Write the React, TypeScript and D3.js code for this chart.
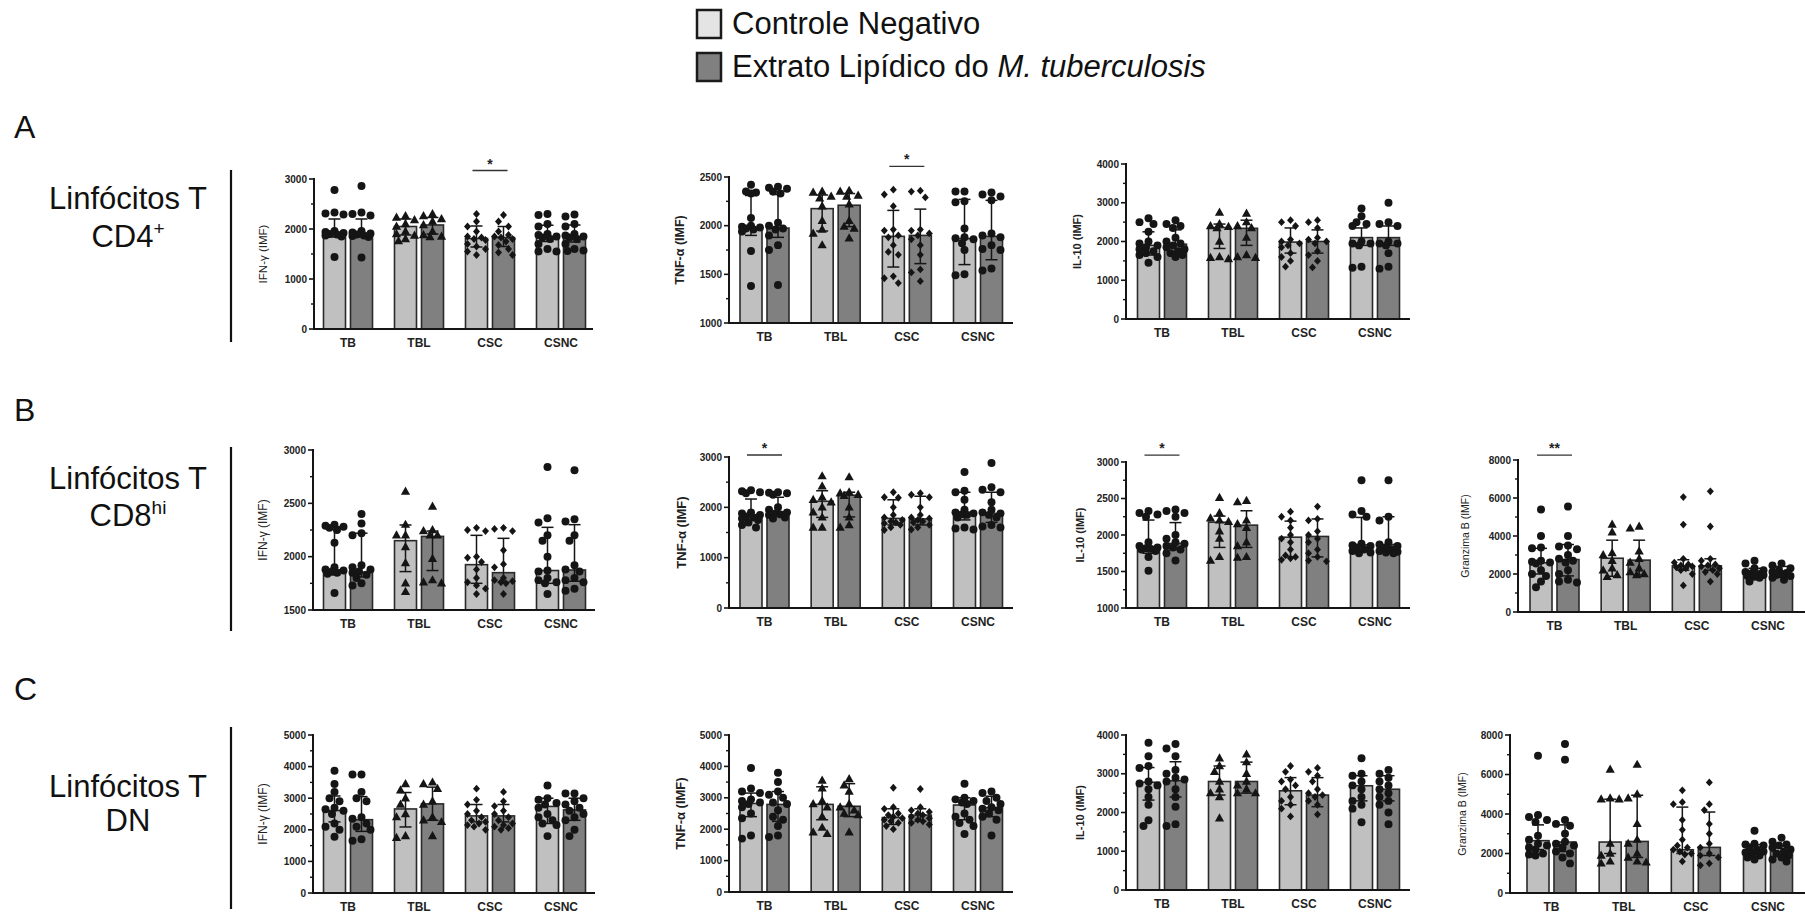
import React from 'react';
import * as d3 from 'd3';

const FONT = "'Liberation Sans', Arial, Helvetica, sans-serif";

const groups = ['TB', 'TBL', 'CSC', 'CSNC'];
const conditions = ['Controle Negativo', 'Extrato Lipídico do '];
const groupShapes = ['circle', 'triangle', 'diamond', 'circle'];
const rowLetters = ['A', 'B', 'C'];
const rowTitles = ['Linfócitos T', 'Linfócitos T', 'Linfócitos T'];
const rowSubs = [['CD4', '+'], ['CD8', 'hi'], ['DN', '']];

// Values ordered: TB ctrl, TB ext, TBL ctrl, TBL ext, CSC ctrl, CSC ext, CSNC ctrl, CSNC ext
// ---- A: CD4 ----
const cd4IfnBars = [1920, 1900, 2050, 2080, 1810, 1830, 1850, 1820];
const cd4IfnLo = [1840, 1840, 1880, 1900, 1640, 1650, 1750, 1740];
const cd4IfnHi = [2200, 2200, 2200, 2230, 2060, 2050, 2075, 2080];
const cd4IfnPts = [
  [2780, 2330, 2310, 2290, 1960, 1940, 1920, 1900, 1890, 1870, 1850, 1440],
  [2860, 2330, 2300, 2270, 1960, 1930, 1910, 1890, 1870, 1860, 1840, 1430],
  [2260, 2230, 2180, 2100, 2050, 1950, 1900, 1870, 1800, 1760],
  [2300, 2260, 2200, 2150, 2080, 1950, 1880, 1850, 1840],
  [2300, 2150, 2050, 1950, 1850, 1830, 1800, 1780, 1700, 1650, 1600, 1550, 1480],
  [2280, 2150, 2050, 1950, 1880, 1850, 1830, 1800, 1750, 1680, 1600, 1530, 1480],
  [2300, 2280, 2100, 2050, 1900, 1880, 1850, 1830, 1800, 1700, 1600, 1550, 1550],
  [2290, 2250, 2100, 2050, 1900, 1870, 1850, 1830, 1800, 1700, 1600, 1570, 1560],
];
const cd4TnfBars = [1975, 1975, 2175, 2210, 1890, 1900, 1867, 1890];
const cd4TnfLo = [1900, 1880, 1945, 1990, 1575, 1610, 1600, 1650];
const cd4TnfHi = [2310, 2320, 2315, 2330, 2157, 2170, 2270, 2260];
const cd4TnfPts = [
  [2420, 2350, 2340, 2330, 2080, 2000, 1990, 1980, 1970, 1960, 1940, 1740, 1380],
  [2400, 2390, 2380, 2350, 2330, 2030, 2000, 1970, 1960, 1900, 1800, 1750, 1390],
  [2350, 2340, 2300, 2280, 2200, 2050, 1960, 1920, 1800],
  [2360, 2350, 2310, 2300, 2220, 2050, 1990, 1970, 1870],
  [2370, 2320, 2200, 1960, 1950, 1900, 1880, 1800, 1730, 1700, 1480, 1460, 1410],
  [2360, 2350, 2290, 1960, 1950, 1920, 1900, 1860, 1800, 1700, 1550, 1520, 1430],
  [2350, 2350, 2250, 2240, 1970, 1880, 1870, 1860, 1820, 1750, 1500, 1490],
  [2340, 2320, 2300, 2260, 1920, 1900, 1880, 1800, 1760, 1750, 1560, 1540],
];
const cd4Il10Bars = [1900, 1930, 2360, 2340, 1985, 2000, 2100, 2100];
const cd4Il10Lo = [1650, 1700, 1820, 1900, 1700, 1700, 1900, 1900];
const cd4Il10Hi = [2250, 2300, 2450, 2550, 2350, 2300, 2350, 2400];
const cd4Il10Pts = [
  [2600, 2500, 2450, 2250, 2000, 1950, 1900, 1850, 1800, 1750, 1700, 1650, 1600, 1450],
  [2550, 2450, 2400, 2350, 2100, 2000, 1950, 1900, 1850, 1800, 1750, 1700, 1650, 1600],
  [2750, 2450, 2400, 2380, 2350, 2000, 1600, 1580, 1550],
  [2720, 2500, 2400, 2350, 2100, 1650, 1600, 1580],
  [2550, 2500, 2400, 2050, 2000, 1950, 1900, 1850, 1700, 1600, 1500, 1350],
  [2550, 2500, 2350, 2100, 2050, 2000, 1950, 1750, 1650, 1500, 1330],
  [2850, 2650, 2500, 2450, 2400, 2000, 1950, 1950, 1900, 1350, 1320],
  [3000, 2500, 2450, 2400, 2000, 1950, 1950, 1900, 1700, 1350, 1300],
];
// ---- B: CD8hi ----
const cd8IfnBars = [1875, 1855, 2150, 2190, 1925, 1850, 1870, 1875];
const cd8IfnLo = [1830, 1810, 1860, 1870, 1750, 1760, 1750, 1770];
const cd8IfnHi = [2280, 2220, 2297, 2240, 2200, 2172, 2275, 2300];
const cd8IfnPts = [
  [2300, 2290, 2280, 2270, 2250, 2130, 1900, 1880, 1870, 1860, 1850, 1840, 1660],
  [2400, 2310, 2220, 2200, 1920, 1900, 1880, 1860, 1850, 1830, 1800, 1750, 1730],
  [2610, 2300, 2200, 2200, 2090, 1940, 1750, 1670],
  [2470, 2250, 2240, 2200, 2200, 1980, 1780, 1760, 1750],
  [2270, 2250, 2240, 2000, 1990, 1950, 1880, 1800, 1760, 1730, 1700, 1650],
  [2270, 2260, 2240, 2060, 1930, 1900, 1800, 1780, 1770, 1760, 1750, 1650],
  [2840, 2360, 2320, 2200, 2150, 2000, 1870, 1860, 1800, 1780, 1760, 1750, 1650],
  [2810, 2350, 2330, 2200, 2150, 1920, 1880, 1860, 1800, 1780, 1760, 1700, 1680],
];
const cd8TnfBars = [1850, 1910, 2120, 2240, 1780, 1770, 1900, 1880];
const cd8TnfLo = [1750, 1820, 1800, 1810, 1650, 1650, 1750, 1700];
const cd8TnfHi = [2165, 2200, 2330, 2300, 2150, 2220, 2300, 2300];
const cd8TnfPts = [
  [2340, 2320, 2300, 2280, 1900, 1880, 1850, 1820, 1800, 1780, 1750, 1700, 1650, 1600],
  [2300, 2290, 2280, 2250, 2000, 1950, 1900, 1880, 1860, 1850, 1800, 1780],
  [2620, 2420, 2200, 2150, 2100, 2000, 1900, 1800, 1600, 1600],
  [2600, 2300, 2280, 2250, 2230, 2000, 1800, 1650, 1600],
  [2300, 2200, 2190, 2000, 1850, 1800, 1750, 1720, 1700, 1680, 1650, 1600, 1550],
  [2280, 2250, 2200, 2000, 1850, 1800, 1780, 1750, 1720, 1700, 1650, 1600, 1560],
  [2700, 2330, 2300, 2150, 1950, 1900, 1880, 1860, 1850, 1800, 1600, 1580, 1560],
  [2880, 2400, 2350, 2300, 2100, 1950, 1900, 1880, 1850, 1800, 1650, 1620, 1600],
];
const cd8Il10Bars = [1830, 1885, 2175, 2135, 1970, 1980, 1865, 1870];
const cd8Il10Lo = [1750, 1800, 1830, 1830, 1700, 1700, 1780, 1780];
const cd8Il10Hi = [2205, 2170, 2259, 2332, 2190, 2220, 2241, 2250];
const cd8Il10Pts = [
  [2330, 2300, 2280, 2250, 1900, 1850, 1830, 1820, 1810, 1800, 1780, 1700, 1510],
  [2350, 2330, 2300, 2250, 2000, 1950, 1900, 1880, 1850, 1830, 1800, 1750, 1650],
  [2510, 2300, 2230, 2200, 2180, 2050, 1950, 1700, 1650],
  [2470, 2450, 2200, 2150, 2100, 1900, 1850, 1700, 1690],
  [2320, 2250, 2200, 2100, 2000, 1950, 1900, 1800, 1720, 1700, 1680, 1660],
  [2390, 2220, 2200, 2050, 2000, 1950, 1900, 1800, 1750, 1700, 1650, 1640],
  [2750, 2330, 2280, 2250, 1880, 1860, 1850, 1830, 1800, 1780, 1760, 1750],
  [2750, 2250, 2200, 1900, 1870, 1850, 1830, 1800, 1780, 1770, 1760, 1750],
];
const cd8GzmBars = [2590, 2760, 2830, 2730, 2430, 2430, 1990, 2000];
const cd8GzmLo = [2000, 1900, 1880, 1950, 2200, 2200, 1850, 1850];
const cd8GzmHi = [3350, 3550, 3780, 3780, 2750, 2800, 2300, 2400];
const cd8GzmPts = [
  [5400, 4000, 3400, 3350, 2700, 2650, 2600, 2550, 2200, 2000, 1900, 1600, 1300],
  [5550, 4000, 3500, 3450, 3300, 3000, 2800, 2700, 2600, 2200, 2000, 1700, 1600, 1550],
  [4600, 4200, 3100, 3000, 2700, 2300, 2200, 1950, 1850],
  [4500, 4400, 3200, 2800, 2600, 2300, 2100, 2000, 1950],
  [6050, 4600, 2800, 2600, 2500, 2450, 2400, 2350, 2300, 2200, 2000, 1400],
  [6350, 4500, 2800, 2700, 2500, 2450, 2400, 2300, 2200, 2100, 2000, 1600],
  [2700, 2550, 2300, 2200, 2100, 2050, 2000, 1950, 1900, 1850, 1800, 1600],
  [2550, 2450, 2300, 2200, 2100, 2050, 2000, 1950, 1900, 1800, 1700],
];
// ---- C: DN ----
const dnIfnBars = [2610, 2320, 2660, 2820, 2440, 2440, 2740, 2630];
const dnIfnLo = [2250, 1950, 2090, 2300, 2250, 2250, 2200, 2300];
const dnIfnHi = [3070, 3050, 3180, 3350, 2800, 2800, 3000, 3000];
const dnIfnPts = [
  [3870, 3450, 3200, 3000, 2900, 2700, 2650, 2600, 2500, 2200, 2100, 2000, 1780],
  [3750, 3750, 3200, 3000, 2900, 2400, 2350, 2200, 2100, 2000, 1700, 1650],
  [3450, 3250, 3000, 2800, 2500, 2400, 1800, 1750],
  [3500, 3450, 3300, 2900, 2800, 2400, 2300, 2250, 1800],
  [3300, 2950, 2800, 2600, 2500, 2400, 2300, 2250, 2200, 2150, 2100, 2000],
  [3200, 2900, 2750, 2600, 2500, 2400, 2300, 2200, 2150, 2100, 2050, 2000],
  [3400, 3000, 2950, 2850, 2800, 2700, 2500, 2400, 2300, 2200, 2150, 1800],
  [3150, 3150, 3000, 2900, 2800, 2700, 2600, 2500, 2400, 2300, 2000, 1800],
];
const dnTnfBars = [2820, 2790, 2790, 2730, 2370, 2450, 2770, 2690];
const dnTnfLo = [2400, 2250, 2300, 2400, 2150, 2250, 2300, 2400];
const dnTnfHi = [3150, 3200, 3350, 3450, 2650, 2650, 3000, 3050];
const dnTnfPts = [
  [3950, 3300, 3200, 3150, 2950, 2900, 2850, 2800, 2700, 2500, 2350, 1800, 1700],
  [3800, 3500, 3200, 3100, 3000, 2850, 2800, 2600, 2400, 2300, 2100, 1800, 1750],
  [3550, 3300, 2900, 2800, 2700, 2400, 2050, 1900, 1850],
  [3600, 3400, 3200, 2800, 2700, 2600, 2500, 2450, 1900],
  [3320, 2700, 2650, 2500, 2450, 2400, 2350, 2300, 2250, 2200, 2100, 2000],
  [3280, 2700, 2600, 2550, 2500, 2450, 2400, 2350, 2300, 2250, 2200, 2150],
  [3450, 3000, 2950, 2900, 2850, 2800, 2500, 2400, 2300, 2200, 2100, 1850],
  [3200, 3150, 3000, 2900, 2800, 2700, 2650, 2600, 2500, 2400, 2300, 1800],
];
const dnIl10Bars = [2780, 2820, 2800, 2800, 2560, 2450, 2690, 2600];
const dnIl10Lo = [2320, 2400, 2450, 2500, 2200, 2150, 2300, 2300];
const dnIl10Hi = [3160, 3310, 3200, 3300, 2900, 2900, 2950, 2950];
const dnIl10Pts = [
  [3800, 3450, 3200, 3150, 2800, 2750, 2700, 2600, 2400, 2200, 1800, 1650],
  [3770, 3650, 3450, 3100, 3000, 2900, 2850, 2800, 2600, 2400, 2150, 1700, 1650],
  [3400, 3200, 3050, 2800, 2600, 2500, 2400, 1850],
  [3500, 3300, 3000, 2800, 2700, 2600, 2500, 2500],
  [3200, 3050, 2850, 2800, 2700, 2600, 2400, 2300, 2200, 2100, 1900],
  [3150, 3050, 2950, 2800, 2600, 2500, 2450, 2400, 2300, 2200, 1950],
  [3400, 3000, 2950, 2800, 2700, 2600, 2400, 2300, 2200, 2100, 1750],
  [3100, 3000, 2900, 2800, 2700, 2600, 2500, 2400, 2300, 2200, 2000, 1700],
];
const dnGzmBars = [2650, 2580, 2580, 2610, 2190, 2310, 2160, 2110];
const dnGzmLo = [2200, 2100, 2000, 1800, 2000, 1900, 1950, 1900];
const dnGzmHi = [3450, 3450, 4750, 4950, 4350, 4100, 2450, 2400];
const dnGzmPts = [
  [6950, 3950, 3850, 3700, 3600, 2900, 2700, 2500, 2400, 2300, 2200, 2000, 1950, 1900],
  [7550, 6750, 3700, 3500, 3400, 3000, 2600, 2500, 2400, 2300, 2100, 2000, 1800, 1500],
  [6250, 4800, 4750, 4750, 2500, 2000, 1900, 1600, 1500],
  [6500, 5000, 4800, 3500, 2700, 2500, 2000, 1800, 1600, 1550],
  [5200, 4600, 4500, 3700, 3200, 2700, 2400, 2300, 2200, 2100, 2000, 1950, 1600],
  [5600, 4500, 4200, 3500, 3000, 2500, 2300, 2000, 1900, 1800, 1500, 1400],
  [3150, 2500, 2450, 2400, 2300, 2200, 2100, 2050, 2000, 1900, 1800, 1700],
  [2800, 2600, 2450, 2400, 2300, 2200, 2100, 2000, 1900, 1800, 1700, 1600],
];

type Panel = {
  bars: number[]; lo: number[]; hi: number[]; pts: number[][];
  domain: [number, number]; major: number;
  axisX: number; xEnd: number; yTop: number; yBot: number; c0: number; c3: number;
  label: string; labelX: number; labelSize: number; labelWeight: number;
  sig?: { group: number; value: number; text: string };
};

const panels: Panel[] = [
  { bars: cd4IfnBars, lo: cd4IfnLo, hi: cd4IfnHi, pts: cd4IfnPts, domain: [0, 3000], major: 1000,
    axisX: 314, xEnd: 593, yTop: 179, yBot: 329, c0: 348, c3: 561,
    label: 'IFN-γ (IMF)', labelX: 263, labelSize: 11.5, labelWeight: 400,
    sig: { group: 2, value: 3170, text: '*' } },
  { bars: cd4TnfBars, lo: cd4TnfLo, hi: cd4TnfHi, pts: cd4TnfPts, domain: [1000, 2500], major: 500,
    axisX: 729, xEnd: 1013, yTop: 177, yBot: 323, c0: 764.5, c3: 978,
    label: 'TNF-α (IMF)', labelX: 680, labelSize: 12.5, labelWeight: 700,
    sig: { group: 2, value: 2610, text: '*' } },
  { bars: cd4Il10Bars, lo: cd4Il10Lo, hi: cd4Il10Hi, pts: cd4Il10Pts, domain: [0, 4000], major: 1000,
    axisX: 1126, xEnd: 1410, yTop: 164, yBot: 319, c0: 1162, c3: 1375,
    label: 'IL-10 (IMF)', labelX: 1077, labelSize: 11, labelWeight: 700 },
  { bars: cd8IfnBars, lo: cd8IfnLo, hi: cd8IfnHi, pts: cd8IfnPts, domain: [1500, 3000], major: 500,
    axisX: 313, xEnd: 595, yTop: 450, yBot: 610, c0: 348, c3: 561,
    label: 'IFN-γ (IMF)', labelX: 263, labelSize: 12, labelWeight: 400 },
  { bars: cd8TnfBars, lo: cd8TnfLo, hi: cd8TnfHi, pts: cd8TnfPts, domain: [0, 3000], major: 1000,
    axisX: 729, xEnd: 1013, yTop: 457, yBot: 608, c0: 764.5, c3: 978,
    label: 'TNF-α (IMF)', labelX: 681, labelSize: 13, labelWeight: 700,
    sig: { group: 0, value: 3040, text: '*' } },
  { bars: cd8Il10Bars, lo: cd8Il10Lo, hi: cd8Il10Hi, pts: cd8Il10Pts, domain: [1000, 3000], major: 500,
    axisX: 1126, xEnd: 1410, yTop: 462, yBot: 608, c0: 1162, c3: 1375,
    label: 'IL-10 (IMF)', labelX: 1080, labelSize: 11, labelWeight: 700,
    sig: { group: 0, value: 3095, text: '*' } },
  { bars: cd8GzmBars, lo: cd8GzmLo, hi: cd8GzmHi, pts: cd8GzmPts, domain: [0, 8000], major: 2000,
    axisX: 1518, xEnd: 1805, yTop: 460, yBot: 612, c0: 1554.5, c3: 1768,
    label: 'Granzima B (IMF)', labelX: 1465, labelSize: 10.5, labelWeight: 400,
    sig: { group: 0, value: 8260, text: '**' } },
  { bars: dnIfnBars, lo: dnIfnLo, hi: dnIfnHi, pts: dnIfnPts, domain: [0, 5000], major: 1000,
    axisX: 313, xEnd: 595, yTop: 735, yBot: 893, c0: 348, c3: 561,
    label: 'IFN-γ (IMF)', labelX: 263, labelSize: 12, labelWeight: 400 },
  { bars: dnTnfBars, lo: dnTnfLo, hi: dnTnfHi, pts: dnTnfPts, domain: [0, 5000], major: 1000,
    axisX: 729, xEnd: 1013, yTop: 735, yBot: 892, c0: 764.5, c3: 978,
    label: 'TNF-α (IMF)', labelX: 680, labelSize: 13, labelWeight: 700 },
  { bars: dnIl10Bars, lo: dnIl10Lo, hi: dnIl10Hi, pts: dnIl10Pts, domain: [0, 4000], major: 1000,
    axisX: 1126, xEnd: 1410, yTop: 735, yBot: 890, c0: 1162, c3: 1375,
    label: 'IL-10 (IMF)', labelX: 1080, labelSize: 11, labelWeight: 700 },
  { bars: dnGzmBars, lo: dnGzmLo, hi: dnGzmHi, pts: dnGzmPts, domain: [0, 8000], major: 2000,
    axisX: 1510, xEnd: 1805, yTop: 735, yBot: 893, c0: 1551.5, c3: 1768,
    label: 'Granzima B (IMF)', labelX: 1462, labelSize: 10.5, labelWeight: 400 },
];

const rowLayout = [
  { letterY: 138, lineTop: 170, lineBot: 342, t1: 209, t2: 247 },
  { letterY: 421, lineTop: 447, lineBot: 631, t1: 489, t2: 526 },
  { letterY: 700, lineTop: 727, lineBot: 909, t1: 797, t2: 831 },
];

const FILL = ['#c0c0c0', '#808080'];
const INK = '#151515';

function markerPath(shape: string): string {
  if (shape === 'triangle') return 'M0,-5L4.6,3.2L-4.6,3.2Z';
  if (shape === 'diamond') return 'M0,-3.9L3.5,0L0,3.9L-3.5,0Z';
  return d3.symbol(d3.symbolCircle, 50)() || '';
}

function swarm(ys: number[], r: number, maxOff: number): number[] {
  const idx = ys.map((_, i) => i).sort((a, b) => ys[a] - ys[b]);
  const cands = [0, -5, 5, -9, 9, -2.5, 2.5, -7, 7];
  const placed: { x: number; y: number }[] = [];
  const out = new Array(ys.length).fill(0);
  for (const i of idx) {
    let best = 0, bestD = -1;
    for (const c of cands) {
      if (Math.abs(c) > maxOff) continue;
      let md = Infinity;
      for (const p of placed) md = Math.min(md, Math.hypot(p.x - c, p.y - ys[i]));
      if (md >= 2 * r) { best = c; bestD = Infinity; break; }
      if (md > bestD) { bestD = md; best = c; }
    }
    out[i] = best;
    placed.push({ x: best, y: ys[i] });
  }
  return out;
}

function PanelView({ p }: { p: Panel }) {
  const y = d3.scaleLinear().domain(p.domain).range([p.yBot, p.yTop]);
  const xg = d3.scalePoint<string>().domain(groups).range([p.c0, p.c3]);
  const xs = d3.scaleBand<string>().domain(['0', '1']).range([-24.5, 24.5]).paddingInner(0.185);
  const bw = xs.bandwidth();
  const majors = d3.range(p.domain[0], p.domain[1] + 1, p.major);
  const minors = d3.range(p.domain[0] + p.major / 2, p.domain[1], p.major);
  const midY = (p.yTop + p.yBot) / 2;
  const items: any[] = [];
  groups.forEach((g, gi) => {
    [0, 1].forEach((k) => {
      const i = gi * 2 + k;
      const x0 = (xg(g) as number) + (xs(String(k)) as number);
      const cx = x0 + bw / 2;
      items.push({ i, gi, k, x0, cx });
    });
  });
  return (
    <g>
      {items.map((it) => (
        <rect key={'b' + it.i} x={it.x0} y={y(p.bars[it.i])} width={bw} height={p.yBot - y(p.bars[it.i])}
          fill={FILL[it.k]} stroke="#2a2a2a" strokeWidth={1.6} />
      ))}
      {items.map((it) => {
        const vals = p.pts[it.i];
        const ys = vals.map((v) => y(v));
        const offs = swarm(ys, 3.6, 9);
        const d = markerPath(groupShapes[it.gi]);
        return (
          <g key={'p' + it.i}>
            {vals.map((v, j) => (
              <path key={j} d={d} transform={`translate(${it.cx + offs[j]},${ys[j]})`} fill={INK} />
            ))}
          </g>
        );
      })}
      {items.map((it) => {
        const yl = y(p.lo[it.i]), yh = y(p.hi[it.i]);
        return (
          <g key={'e' + it.i} stroke={INK} strokeWidth={1.5}>
            <line x1={it.cx} x2={it.cx} y1={yl} y2={yh} />
            <line x1={it.cx - 6} x2={it.cx + 6} y1={yl} y2={yl} />
            <line x1={it.cx - 6} x2={it.cx + 6} y1={yh} y2={yh} />
          </g>
        );
      })}
      <line x1={p.axisX} x2={p.axisX} y1={p.yBot + 1} y2={p.yTop - 1} stroke={INK} strokeWidth={2} />
      <line x1={p.axisX - 1} x2={p.xEnd} y1={p.yBot} y2={p.yBot} stroke={INK} strokeWidth={2} />
      {majors.map((t) => (
        <g key={'t' + t}>
          <line x1={p.axisX - 5} x2={p.axisX} y1={y(t)} y2={y(t)} stroke={INK} strokeWidth={1.6} />
          <text x={p.axisX - 7} y={y(t)} dy="0.35em" textAnchor="end" fontSize={10} fontWeight={700}
            fontFamily={FONT} fill="#222">{t}</text>
        </g>
      ))}
      {minors.map((t) => (
        <line key={'m' + t} x1={p.axisX - 3} x2={p.axisX} y1={y(t)} y2={y(t)} stroke={INK} strokeWidth={1.4} />
      ))}
      {groups.map((g) => (
        <text key={'c' + g} x={xg(g)} y={p.yBot + 18} textAnchor="middle" fontSize={12} fontWeight={700}
          fontFamily={FONT} fill="#222">{g}</text>
      ))}
      <text transform={`translate(${p.labelX},${midY}) rotate(-90)`} textAnchor="middle" dy="0.35em"
        fontSize={p.labelSize} fontWeight={p.labelWeight} fontFamily={FONT} fill="#222">{p.label}</text>
      {p.sig && (() => {
        const g = groups[p.sig.group];
        const a = (xg(g) as number) + (xs('0') as number) + bw / 2 - 4;
        const b = (xg(g) as number) + (xs('1') as number) + bw / 2 + 4;
        const yy = y(p.sig.value);
        return (
          <g>
            <line x1={a} x2={b} y1={yy} y2={yy} stroke="#333" strokeWidth={1.3} />
            <text x={(a + b) / 2} y={yy - 2} textAnchor="middle" fontSize={14} fontWeight={700}
              fontFamily={FONT} fill="#222">{p.sig.text}</text>
          </g>
        );
      })()}
    </g>
  );
}

export default function App() {
  return (
    <svg width={1805} height={916} style={{ position: 'absolute', left: 0, top: 0, background: '#fff' }}>
      <rect x={0} y={0} width={1805} height={916} fill="#fff" />
      {conditions.map((c, k) => (
        <g key={'lg' + k}>
          <rect x={697} y={10 + k * 43} width={24} height={28} fill={k === 0 ? '#e4e4e4' : '#808080'}
            stroke="#1a1a1a" strokeWidth={2.5} />
          <text x={732} y={34 + k * 43} fontSize={31} fontFamily={FONT} fill="#111">
            {c}
            {k === 1 && <tspan fontStyle="italic">M. tuberculosis</tspan>}
          </text>
        </g>
      ))}
      {rowLayout.map((r, i) => (
        <g key={'row' + i}>
          <text x={14} y={r.letterY} fontSize={32} fontFamily={FONT} fill="#111">{rowLetters[i]}</text>
          <line x1={231} x2={231} y1={r.lineTop} y2={r.lineBot} stroke="#111" strokeWidth={2.2} />
          <text x={128} y={r.t1} textAnchor="middle" fontSize={31} fontFamily={FONT} fill="#111">{rowTitles[i]}</text>
          <text x={128} y={r.t2} textAnchor="middle" fontSize={31} fontFamily={FONT} fill="#111">
            {rowSubs[i][0]}
            {rowSubs[i][1] && <tspan fontSize={19} dy={-12}>{rowSubs[i][1]}</tspan>}
          </text>
        </g>
      ))}
      {panels.map((p, i) => <PanelView key={i} p={p} />)}
    </svg>
  );
}
